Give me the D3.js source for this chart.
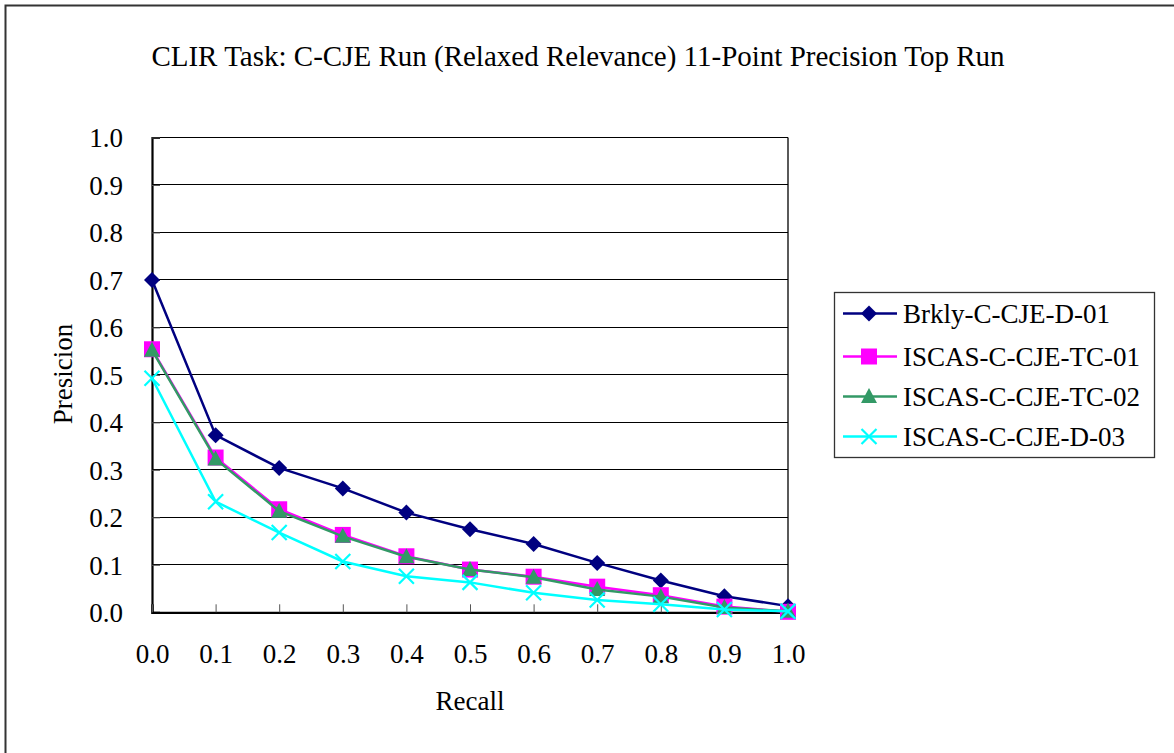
<!DOCTYPE html>
<html>
<head>
<style>
body { margin: 0; background: #fff; }
text { font-family: "Liberation Serif", "Times New Roman", serif; fill: #000; }
</style>
<script src="https://d3js.org/d3.v7.min.js"></script>
</head>
<body>
<div id="chart"></div>
<script>
var recall = [0.0, 0.1, 0.2, 0.3, 0.4, 0.5, 0.6, 0.7, 0.8, 0.9, 1.0];
var yTicks = [0.0, 0.1, 0.2, 0.3, 0.4, 0.5, 0.6, 0.7, 0.8, 0.9, 1.0];

var brkly_D01  = [0.700, 0.373, 0.304, 0.261, 0.210, 0.175, 0.144, 0.104, 0.067, 0.034, 0.013];
var iscas_TC01 = [0.554, 0.326, 0.217, 0.163, 0.118, 0.090, 0.075, 0.054, 0.036, 0.012, 0.001];
var iscas_TC02 = [0.552, 0.323, 0.213, 0.160, 0.117, 0.090, 0.074, 0.048, 0.033, 0.010, 0.002];
var iscas_D03  = [0.493, 0.233, 0.168, 0.107, 0.076, 0.063, 0.041, 0.026, 0.017, 0.006, 0.002];

var series = [
  {name: "Brkly-C-CJE-D-01",   values: brkly_D01,  color: "#000080", marker: "diamond"},
  {name: "ISCAS-C-CJE-TC-01",  values: iscas_TC01, color: "#FF00FF", marker: "square"},
  {name: "ISCAS-C-CJE-TC-02",  values: iscas_TC02, color: "#339966", marker: "triangle"},
  {name: "ISCAS-C-CJE-D-03",   values: iscas_D03,  color: "#00FFFF", marker: "cross"}
];

var width = 1174, height = 753;
var plot = {left: 152, right: 788, top: 137.5, bottom: 612.3};
var fontSize = "27px";

var svg = d3.select("#chart").append("svg")
  .attr("width", width).attr("height", height);

// outer frame (only top/left visible in the picture)
svg.append("rect").attr("x", 5.5).attr("y", 5.5)
  .attr("width", 1200).attr("height", 800)
  .attr("fill", "none").attr("stroke", "#333").attr("stroke-width", 2);

var x = d3.scaleLinear().domain([0, 1]).range([plot.left, plot.right]);
var y = d3.scaleLinear().domain([0, 1]).range([plot.bottom, plot.top]);

// gridlines
svg.append("g").selectAll("line").data(yTicks.slice(1))
  .enter().append("line")
  .attr("x1", plot.left).attr("x2", plot.right)
  .attr("y1", d => y(d)).attr("y2", d => y(d))
  .attr("stroke", "#000").attr("stroke-width", 1).attr("shape-rendering", "crispEdges");

// plot border right
svg.append("line").attr("x1", plot.right).attr("x2", plot.right)
  .attr("y1", plot.top).attr("y2", plot.bottom)
  .attr("stroke", "#000").attr("stroke-width", 1.3);

// axes (ticks point inward)
var yAxis = d3.axisLeft(y).tickValues(yTicks).tickFormat(d3.format(".1f")).tickSize(-8).tickPadding(29);
var xAxis = d3.axisBottom(x).tickValues(recall).tickFormat(d3.format(".1f")).tickSize(-8).tickPadding(32);

var gy = svg.append("g").attr("transform", `translate(${plot.left},0)`).call(yAxis);
var gx = svg.append("g").attr("transform", `translate(0,${plot.bottom})`).call(xAxis);
[gy, gx].forEach(g => {
  g.attr("font-family", null).attr("font-size", null);
  g.select(".domain").attr("stroke", "#000").attr("stroke-width", 2.2);
  g.selectAll(".tick line").attr("stroke", "#555").attr("stroke-width", 1);
  g.selectAll(".tick text").style("font-size", fontSize).attr("fill", "#000");
});
gy.selectAll(".tick text").attr("dy", "0.34em");

// lines
var line = d3.line().x((d, i) => x(recall[i])).y(d => y(d));

function drawMarker(g, type, color, cx, cy) {
  if (type === "diamond") {
    g.append("path").attr("d", `M${cx},${cy-8}L${cx+8},${cy}L${cx},${cy+8}L${cx-8},${cy}Z`).attr("fill", color);
  } else if (type === "square") {
    g.append("rect").attr("x", cx-8).attr("y", cy-8).attr("width", 16).attr("height", 16).attr("fill", color);
  } else if (type === "triangle") {
    g.append("path").attr("d", `M${cx},${cy-8.5}L${cx+8},${cy+6.5}L${cx-8},${cy+6.5}Z`).attr("fill", color);
  } else if (type === "cross") {
    g.append("path").attr("d", `M${cx-7.5},${cy-7.5}L${cx+7.5},${cy+7.5}M${cx+7.5},${cy-7.5}L${cx-7.5},${cy+7.5}`)
      .attr("stroke", color).attr("stroke-width", 2.2).attr("fill", "none");
  }
}

series.forEach(s => {
  var g = svg.append("g");
  g.append("path").datum(s.values).attr("d", line)
    .attr("fill", "none").attr("stroke", s.color).attr("stroke-width", 2.5);
  s.values.forEach((v, i) => drawMarker(g, s.marker, s.color, x(recall[i]), y(v)));
});

// title and axis labels
svg.append("text").attr("x", 578).attr("y", 66).attr("text-anchor", "middle")
  .style("font-size", "29px").text("CLIR Task: C-CJE Run (Relaxed Relevance) 11-Point Precision Top Run");
svg.append("text").attr("x", 470).attr("y", 710).attr("text-anchor", "middle")
  .style("font-size", fontSize).text("Recall");
svg.append("text").attr("transform", "translate(72,374) rotate(-90)").attr("text-anchor", "middle")
  .style("font-size", fontSize).text("Presicion");

// legend
var legend = svg.append("g");
legend.append("rect").attr("x", 834.5).attr("y", 292.5).attr("width", 320).attr("height", 165)
  .attr("fill", "#fff").attr("stroke", "#333").attr("stroke-width", 1.3);
var legendY = [313.5, 356.5, 396.5, 436.5];
series.forEach((s, i) => {
  var ly = legendY[i];
  legend.append("line").attr("x1", 843).attr("x2", 897).attr("y1", ly).attr("y2", ly)
    .attr("stroke", s.color).attr("stroke-width", 2.5);
  drawMarker(legend, s.marker, s.color, 869, ly);
  legend.append("text").attr("x", 903).attr("y", ly).attr("dy", "0.35em")
    .style("font-size", fontSize).text(s.name);
});
</script>
</body>
</html>
